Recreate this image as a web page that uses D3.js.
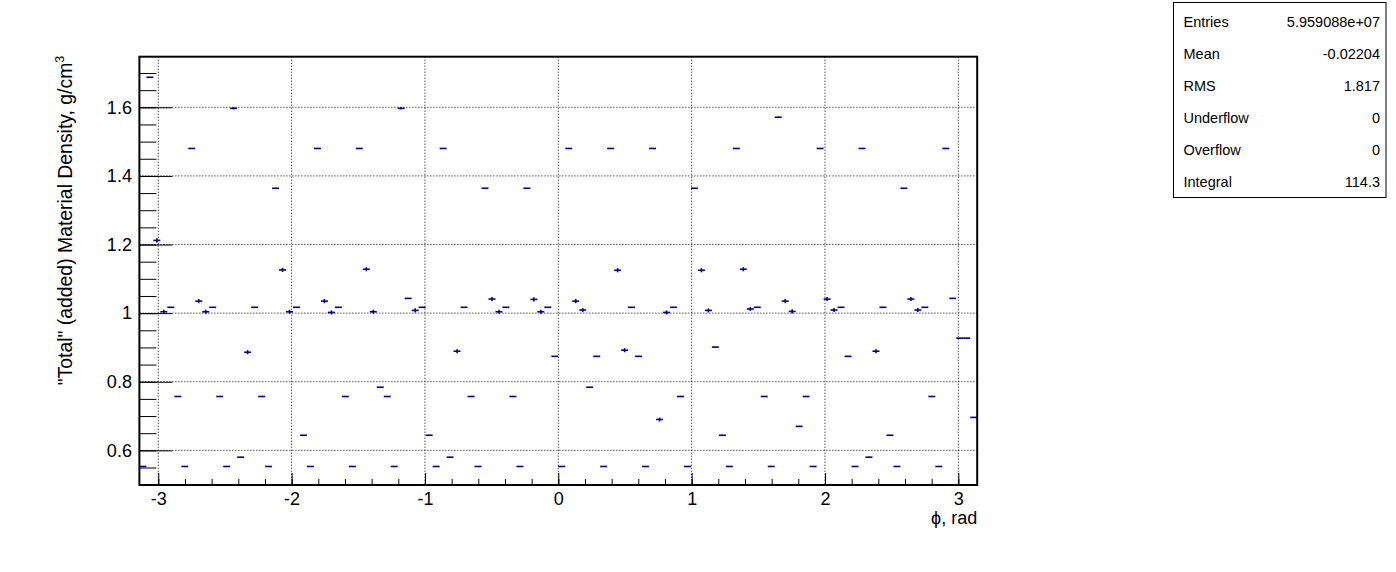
<!DOCTYPE html>
<html><head><meta charset="utf-8">
<script src="https://cdn.jsdelivr.net/npm/d3@7"></script>
<style>
body{margin:0;background:#fff;}
text{font-family:"Liberation Sans",Arial,Helvetica,sans-serif;fill:#000;}
</style>
</head><body>
<svg id="c" width="1396" height="572"></svg>
<script>
// ---- data (120 bins in phi from -pi to pi) ----
const density = [
 0.553,1.6875,1.212,1.004,1.017,0.757,0.553,1.480,1.035,1.004,
 1.017,0.757,0.553,1.597,0.580,0.886,1.017,0.757,0.553,1.364,
 1.126,1.004,1.017,0.644,0.553,1.480,1.035,1.002,1.017,0.757,
 0.553,1.480,1.128,1.004,0.784,0.757,0.553,1.597,1.043,1.008,
 1.017,0.644,0.553,1.480,0.580,0.889,1.017,0.757,0.553,1.364,
 1.041,1.004,1.017,0.757,0.553,1.364,1.040,1.004,1.017,0.874,
 0.553,1.480,1.035,1.009,0.784,0.874,0.553,1.480,1.125,0.892,
 1.017,0.874,0.553,1.480,0.690,1.002,1.017,0.757,0.553,1.364,
 1.125,1.008,0.901,0.644,0.553,1.480,1.128,1.012,1.017,0.757,
 0.553,1.571,1.035,1.005,0.670,0.757,0.553,1.480,1.041,1.009,
 1.017,0.874,0.553,1.480,0.580,0.889,1.017,0.644,0.553,1.364,
 1.041,1.009,1.017,0.757,0.553,1.480,1.043,0.927,0.927,0.696
];
const densityErr = [
 0.001,0.001,0.006,0.006,0.001,0.001,0.001,0.001,0.006,0.006,
 0.001,0.001,0.001,0.003,0.001,0.006,0.001,0.001,0.001,0.001,
 0.006,0.006,0.001,0.001,0.001,0.001,0.006,0.006,0.001,0.001,
 0.001,0.001,0.006,0.006,0.001,0.001,0.001,0.003,0.001,0.006,
 0.001,0.001,0.001,0.001,0.001,0.006,0.001,0.001,0.001,0.001,
 0.006,0.006,0.001,0.001,0.001,0.001,0.006,0.006,0.001,0.001,
 0.001,0.001,0.006,0.006,0.001,0.001,0.001,0.001,0.006,0.006,
 0.001,0.001,0.001,0.001,0.006,0.006,0.001,0.001,0.001,0.001,
 0.006,0.006,0.001,0.001,0.001,0.001,0.006,0.006,0.001,0.001,
 0.001,0.002,0.006,0.006,0.001,0.001,0.001,0.001,0.006,0.006,
 0.001,0.001,0.001,0.001,0.001,0.006,0.001,0.001,0.001,0.001,
 0.006,0.006,0.001,0.001,0.001,0.001,0.001,0.001,0.001,0.001
];
const xTickValues = [-3,-2,-1,0,1,2,3];
const xTickLabels = ["-3","-2","-1","0","1","2","3"];
const yTickValues = [0.6,0.8,1.0,1.2,1.4,1.6];
const yTickLabels = ["0.6","0.8","1","1.2","1.4","1.6"];
const statLabels = ["Entries","Mean","RMS","Underflow","Overflow","Integral"];
const statValues = ["5.959088e+07","-0.02204","1.817","0","0","114.3"];
const xTitle = "\u03D5, rad";
const yTitleMain = "\"Total\" (added) Material Density, g/cm";
const yTitleSup = "3";

// ---- layout ----
const L = 139.4, R = 977.2, T = 56.7, B = 485;
const phiMin = -Math.PI, phiMax = Math.PI;
const yMin = 0.499, yMax = 1.7475;
const col = "#000099";
const fs = 18;

const svg = d3.select("#c");
const x = d3.scaleLinear().domain([phiMin, phiMax]).range([L, R]);
const y = d3.scaleLinear().domain([yMin, yMax]).range([B, T]);

// grid
const g = svg.append("g");
g.selectAll("line.gx").data(xTickValues).join("line")
  .attr("x1", d => x(d)).attr("x2", d => x(d)).attr("y1", T).attr("y2", B)
  .attr("stroke", "#000").attr("stroke-width", 1).attr("stroke-dasharray", "1,2");
g.selectAll("line.gy").data(yTickValues).join("line")
  .attr("x1", L).attr("x2", R).attr("y1", d => y(d)).attr("y2", d => y(d))
  .attr("stroke", "#000").attr("stroke-width", 1).attr("stroke-dasharray", "1,2");

// minor ticks
const xMinor = d3.range(-15, 16).map(k => k * 0.2).filter(v => v >= phiMin && v <= phiMax);
const yMinor = d3.range(10, 36).map(k => k * 0.05).filter(v => v >= yMin && v <= yMax);

const xAxisMinor = d3.axisBottom(x).tickValues(xMinor).tickFormat("").tickSizeInner(-6).tickSizeOuter(0);
const xAxis = d3.axisBottom(x).tickValues(xTickValues).tickFormat((d, i) => xTickLabels[i])
  .tickSizeInner(-12).tickSizeOuter(0).tickPadding(7);
const yAxisMinor = d3.axisLeft(y).tickValues(yMinor).tickFormat("").tickSizeInner(-17).tickSizeOuter(0);
const yAxis = d3.axisLeft(y).tickValues(yTickValues).tickFormat((d, i) => yTickLabels[i])
  .tickSizeInner(-33).tickSizeOuter(0).tickPadding(7.5);

function styleAxis(sel) {
  sel.select(".domain").remove();
  sel.selectAll(".tick line").attr("stroke", "#000").attr("stroke-width", 1);
  sel.selectAll(".tick text").attr("font-size", fs).attr("font-family", "Liberation Sans, Arial, sans-serif").attr("fill", "#000");
}
svg.append("g").attr("transform", `translate(0,${B})`).call(xAxisMinor).call(styleAxis);
svg.append("g").attr("transform", `translate(0,${B})`).call(xAxis).call(styleAxis);
svg.append("g").attr("transform", `translate(${L},0)`).call(yAxisMinor).call(styleAxis);
svg.append("g").attr("transform", `translate(${L},0)`).call(yAxis).call(styleAxis);

// data marks
const n = density.length;
const bw = (phiMax - phiMin) / n;
const bins = density.map((v, i) => ({ lo: phiMin + i * bw, hi: phiMin + (i + 1) * bw, v, e: densityErr[i] }));
const mg = svg.append("g").attr("stroke", col).attr("stroke-width", 1.6);
mg.selectAll("line.h").data(bins).join("line")
  .attr("x1", d => x(d.lo)).attr("x2", d => x(d.hi))
  .attr("y1", d => y(d.v)).attr("y2", d => y(d.v));
mg.selectAll("line.v").data(bins).join("line")
  .attr("x1", d => x((d.lo + d.hi) / 2)).attr("x2", d => x((d.lo + d.hi) / 2))
  .attr("y1", d => y(d.v - d.e)).attr("y2", d => y(d.v + d.e));

// frame
svg.append("rect").attr("x", L).attr("y", T).attr("width", R - L).attr("height", B - T)
  .attr("fill", "none").attr("stroke", "#000").attr("stroke-width", 2);

// titles
svg.append("text").attr("x", R).attr("y", 524).attr("text-anchor", "end")
  .attr("font-size", fs).text(xTitle);
const yt = svg.append("text").attr("transform", `translate(72,${T - 1}) rotate(-90)`)
  .attr("text-anchor", "end").attr("font-size", 19.4);
yt.append("tspan").text(yTitleMain);
yt.append("tspan").attr("dy", -8).attr("font-size", 12.5).text(yTitleSup);

// stats box
const sx = 1173.5, sy = 2.5, sw = 212.5, sh = 195;
svg.append("rect").attr("x", sx).attr("y", sy).attr("width", sw).attr("height", sh)
  .attr("fill", "#fff").attr("stroke", "#000").attr("stroke-width", 1);
const rowY = (i) => 22 + 32 * i + 5;
const sg = svg.append("g").attr("font-size", 14.5);
sg.selectAll("text.l").data(statLabels).join("text")
  .attr("x", sx + 10).attr("y", (d, i) => rowY(i)).text(d => d);
sg.selectAll("text.v").data(statValues).join("text")
  .attr("x", sx + sw - 6).attr("y", (d, i) => rowY(i))
  .attr("text-anchor", "end").text(d => d);
</script>
</body></html>
